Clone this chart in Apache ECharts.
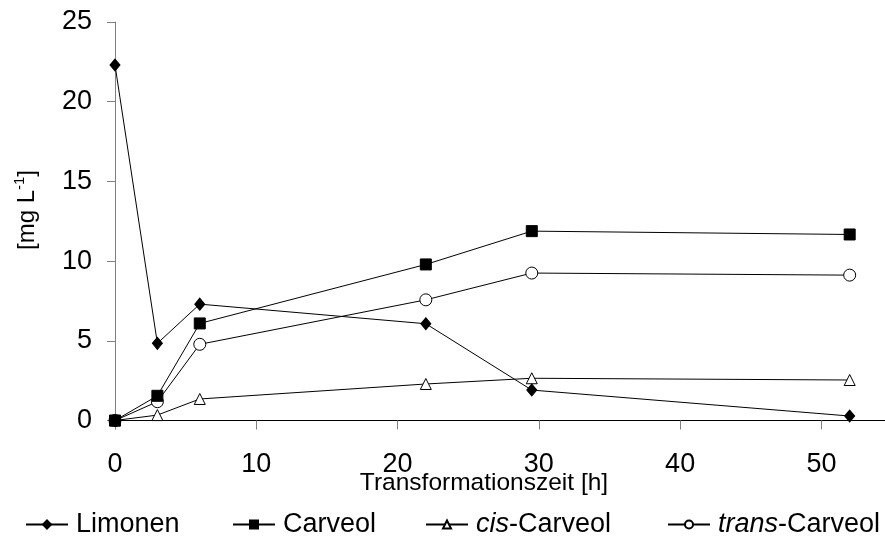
<!DOCTYPE html>
<html>
<head>
<meta charset="utf-8">
<script src="https://cdn.jsdelivr.net/npm/echarts@6/dist/echarts.min.js"></script>
<style>html,body{margin:0;padding:0;background:#fff}#c{width:885px;height:538px}</style>
</head>
<body>
<div id="c"></div>
<script>
const times = [0, 3, 6, 22, 29.5, 52];
const limonen = [22.3, 4.84, 7.3, 6.07, 1.91, 0.28];
const carveol = [0, 1.55, 6.09, 9.79, 11.88, 11.67];
const cisCarveol = [0, 0.34, 1.35, 2.29, 2.65, 2.54];
const transCarveol = [0, 1.18, 4.78, 7.57, 9.25, 9.12];
const xTicks = [0, 10, 20, 30, 40, 50];
const seriesNames = ['Limonen', 'Carveol', 'cis-Carveol', 'trans-Carveol'];

const FONT = 'Liberation Sans, Arial, sans-serif';
function pairs(ys) { return times.map((t, i) => [t, ys[i]]); }

const chart = echarts.init(document.getElementById('c'));
const common = {
  type: 'line',
  lineStyle: { color: '#000', width: 1 },
  itemStyle: { color: '#000', borderColor: '#000', borderWidth: 1 },
  showSymbol: true,
  animation: false,
  emphasis: { disabled: true }
};
function legend(name, left) {
  return {
    data: [name], left: left, top: 511, padding: 0,
    itemWidth: 42, itemHeight: 10,
    textStyle: {
      fontFamily: FONT, fontSize: 27, color: '#000', padding: [0, 0, 0, 3],
      rich: { i: { fontFamily: FONT, fontSize: 27, fontStyle: 'italic', color: '#000' } }
    },
    formatter: n => n === 'cis-Carveol' ? '{i|cis}-Carveol' : (n === 'trans-Carveol' ? '{i|trans}-Carveol' : n),
    selectedMode: false
  };
}
chart.setOption({
  backgroundColor: '#fff',
  animation: false,
  grid: { left: 115, right: 0, top: 22, bottom: 117.5, containLabel: false },
  xAxis: {
    type: 'value', min: 0, max: 54.5, interval: 10,
    axisLine: { lineStyle: { color: '#000', width: 1 } },
    axisTick: { show: true, length: 9, lineStyle: { color: '#808080' }, customValues: xTicks },
    axisLabel: { fontFamily: FONT, fontSize: 27, color: '#000', margin: 31, customValues: xTicks },
    splitLine: { show: false }
  },
  yAxis: {
    type: 'value', min: 0, max: 25, interval: 5,
    axisLine: { show: true, lineStyle: { color: '#808080', width: 1 } },
    axisTick: { show: true, length: 8, lineStyle: { color: '#808080' } },
    axisLabel: { fontFamily: FONT, fontSize: 27, color: '#000', margin: 23 },
    splitLine: { show: false }
  },
  legend: [legend(seriesNames[0], 25), legend(seriesNames[1], 232), legend(seriesNames[2], 425), legend(seriesNames[3], 667)],
  graphic: [
    { type: 'text', x: 484, y: 483, style: { text: 'Transformationszeit [h]', font: '24.5px ' + FONT, fill: '#000', align: 'center', verticalAlign: 'middle' } },
    { type: 'text', x: 27, y: 210, rotation: Math.PI / 2,
      style: { text: '{a|[mg L}{s|-1}{a|]}', fill: '#000', align: 'center', verticalAlign: 'middle',
        rich: { a: { fontFamily: FONT, fontSize: 24, lineHeight: 30, fill: '#000' },
                s: { fontFamily: FONT, fontSize: 15, verticalAlign: 'top', lineHeight: 30, padding: [0,0,10,0], fill: '#000' } } } }
  ],
  series: [
    Object.assign({}, common, { name: seriesNames[0], data: pairs(limonen), symbol: 'diamond', symbolSize: [10, 12], z: 5 }),
    Object.assign({}, common, { name: seriesNames[1], data: pairs(carveol), symbol: 'rect', symbolSize: 11, z: 4 }),
    Object.assign({}, common, { name: seriesNames[2], data: pairs(cisCarveol), symbol: 'triangle', symbolSize: 11, z: 3,
      itemStyle: { color: '#fff', borderColor: '#000', borderWidth: 1 } }),
    Object.assign({}, common, { name: seriesNames[3], data: pairs(transCarveol), symbol: 'circle', symbolSize: 12, z: 3,
      itemStyle: { color: '#fff', borderColor: '#000', borderWidth: 1 } })
  ]
});
</script>
</body>
</html>
